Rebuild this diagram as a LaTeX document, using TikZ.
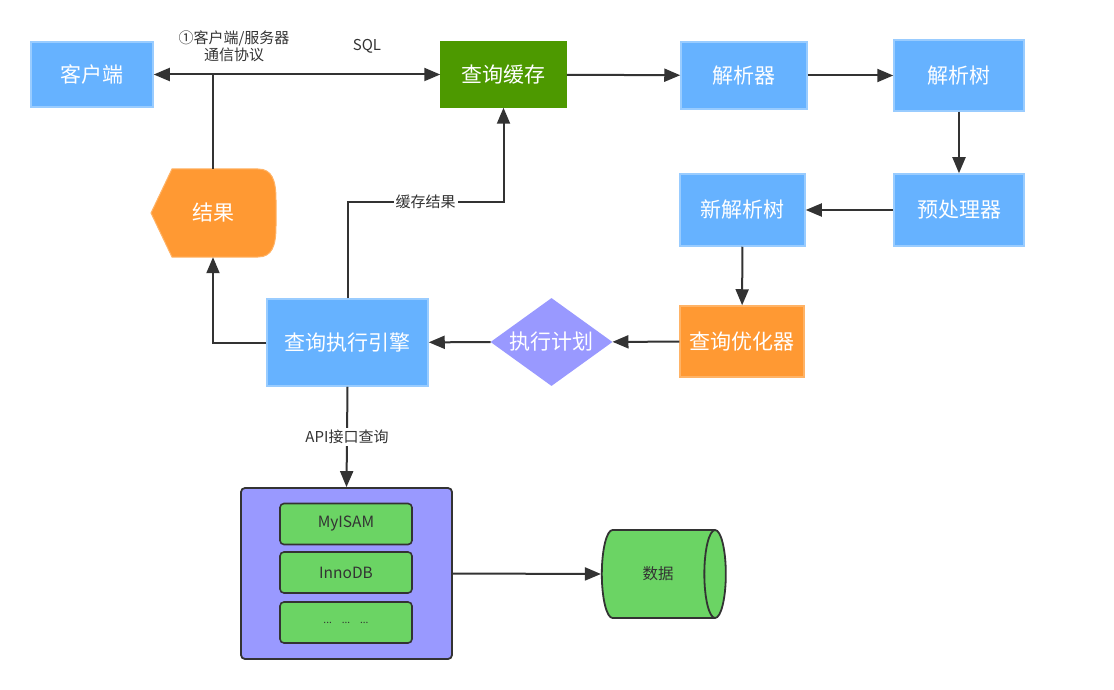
\documentclass[tikz,border=0pt]{standalone}
\usepackage{fontspec}
\setmainfont{Noto Sans CJK SC}
\usetikzlibrary{shapes.geometric,arrows.meta,positioning}
\definecolor{boxblue}{HTML}{66B2FF}
\definecolor{boxblueline}{HTML}{99CCFF}
\definecolor{cachegreen}{HTML}{4D9900}
\definecolor{optorange}{HTML}{FF9933}
\definecolor{optorangeline}{HTML}{FFB366}
\definecolor{planviolet}{HTML}{9999FF}
\definecolor{enggreen}{HTML}{6BD464}
\definecolor{linegray}{HTML}{333333}
\tikzset{
  sbox/.style={rectangle, draw=boxblueline, fill=boxblue, line width=1.5pt, text=white, font=\fontsize{21}{25}\selectfont, inner sep=0pt},
  sboxgreen/.style={sbox, draw=cachegreen, fill=cachegreen},
  sboxorange/.style={sbox, draw=optorangeline, fill=optorange},
  sdiamond/.style={diamond, aspect=1.4, fill=planviolet, text=white, font=\fontsize{21}{25}\selectfont, inner sep=0pt, minimum width=122pt, minimum height=88pt},
  engbox/.style={rectangle, rounded corners=4pt, draw=linegray, fill=enggreen, line width=1.6pt, minimum width=132pt, minimum height=41pt, text=linegray, font=\fontsize{15.5}{18}\selectfont},
  slbl/.style={font=\fontsize{15}{17}\selectfont, text=linegray, fill=white, inner sep=2pt, align=center},
  sline/.style={line width=2pt, linegray},
  sarrow/.style={sline, -{Triangle[length=16pt,width=13pt]}}
}

\begin{document}
\begin{tikzpicture}[x=1pt,y=-1pt]
\useasboundingbox (0,0) rectangle (1114,690);
% top row
\node[sbox, minimum width=122pt, minimum height=65pt] (client) at (92,74.5) {客户端};
\node[sboxgreen, minimum width=125pt, minimum height=65pt] (cache) at (503.5,74.5) {查询缓存};
\node[sbox, minimum width=126pt, minimum height=67pt] (parser) at (744,75.5) {解析器};
\node[sbox, minimum width=130pt, minimum height=71pt] (ptree) at (959,75.5) {解析树};
% second row
\node[sbox, minimum width=130pt, minimum height=72pt] (prep) at (959,210) {预处理器};
\node[sbox, minimum width=125pt, minimum height=72pt] (newtree) at (742.5,210) {新解析树};
% third row
\node[sboxorange, minimum width=124pt, minimum height=71pt] (optim) at (742,341.5) {查询优化器};
\node[sdiamond] (plan) at (551.5,342) {执行计划};
\node[sbox, minimum width=161pt, minimum height=87pt] (engine) at (347.5,342.5) {查询执行引擎};
% result shape
\fill[optorange, draw=optorangeline, line width=1pt] (151,213) -- (172,169) -- (258,169)
  .. controls (272,169) and (276,180) .. (276,200) -- (276,226)
  .. controls (276,246) and (272,257) .. (258,257) -- (172,257) -- cycle;
\node[minimum width=125pt, minimum height=88pt, inner sep=0pt, text=white, font=\fontsize{21}{25}\selectfont] (res) at (213,213) {结果};
% storage engines
\node[rectangle, rounded corners=4pt, draw=linegray, fill=planviolet, line width=1.8pt, minimum width=211pt, minimum height=171pt] (store) at (346.5,573.5) {};
\node[engbox] (myisam) at (346,524) {MyISAM};
\node[engbox] (innodb) at (346,572.5) {InnoDB};
\node[engbox, font=\fontsize{10}{12}\selectfont] (others) at (346,622.5) {...\hspace{10pt}...\hspace{10pt}...};
\node[cylinder, draw=linegray, fill=enggreen, line width=1.8pt, minimum width=88pt, minimum height=124pt, aspect=1.5, inner sep=0pt, text=linegray, font=\fontsize{15.5}{18}\selectfont] (data) at (658,574) {数据};
% labels
\node[slbl, fill=none] (proto) at (234,46) {①客户端/服务器\\通信协议};
\node[slbl, fill=none] (sql) at (367,46) {SQL};
% connectors
\draw[sline, {Triangle[length=16pt,width=13pt]}-{Triangle[length=16pt,width=13pt]}] (client) -- (cache);
\draw[sline] (res.north) -- (res.north |- client.east);
\draw[sarrow] (cache) -- (parser);
\draw[sarrow] (parser) -- (ptree);
\draw[sarrow] (ptree) -- (prep);
\draw[sarrow] (prep) -- (newtree);
\draw[sarrow] (newtree) -- (optim);
\draw[sarrow] (optim) -- (plan);
\draw[sarrow] (plan) -- (engine);
\draw[sarrow] (engine.west) -| (res.south);
\draw[sarrow] (engine.north) -- ++(0,-96) -| node[slbl, pos=0.25] {缓存结果} (cache.south);
\draw[sarrow] (engine.south) -- node[slbl] {API接口查询} (store.north);
\draw[sarrow] (store.east) -- (data.west);
\end{tikzpicture}
\end{document}
